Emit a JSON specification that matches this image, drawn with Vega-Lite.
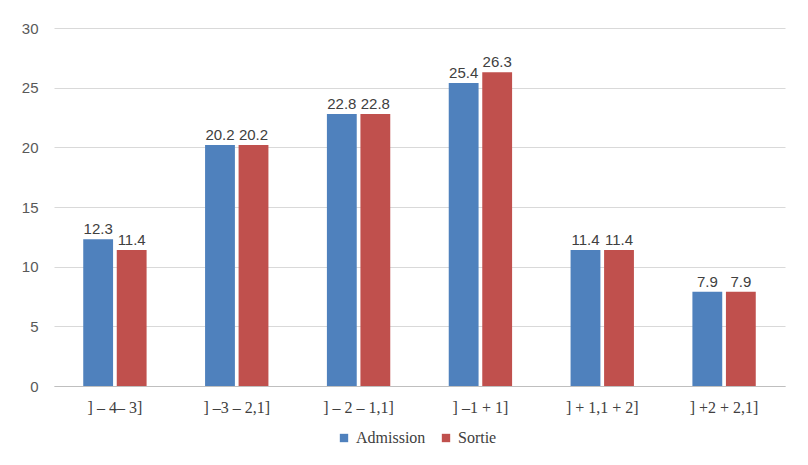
{
  "$schema": "https://vega.github.io/schema/vega-lite/v6.json",
  "width": 731,
  "height": 358,
  "autosize": {"type": "none"},
  "padding": {"left": 54, "top": 28, "right": 23, "bottom": 79},
  "background": "white",
  "data": {"values": [
    {"cat": "] – 4– 3]", "serie": "Admission", "v": 12.3},
    {"cat": "] – 4– 3]", "serie": "Sortie", "v": 11.4},
    {"cat": "] –3 – 2,1]", "serie": "Admission", "v": 20.2},
    {"cat": "] –3 – 2,1]", "serie": "Sortie", "v": 20.2},
    {"cat": "] – 2 – 1,1]", "serie": "Admission", "v": 22.8},
    {"cat": "] – 2 – 1,1]", "serie": "Sortie", "v": 22.8},
    {"cat": "] –1 + 1]", "serie": "Admission", "v": 25.4},
    {"cat": "] –1 + 1]", "serie": "Sortie", "v": 26.3},
    {"cat": "] + 1,1 + 2]", "serie": "Admission", "v": 11.4},
    {"cat": "] + 1,1 + 2]", "serie": "Sortie", "v": 11.4},
    {"cat": "] +2 + 2,1]", "serie": "Admission", "v": 7.9},
    {"cat": "] +2 + 2,1]", "serie": "Sortie", "v": 7.9}
  ]},
  "encoding": {
    "x": {"field": "cat", "type": "nominal", "sort": null,
      "scale": {"paddingInner": 0.48, "paddingOuter": 0.24},
      "axis": {"title": null, "labelAngle": 0, "ticks": false, "domainColor": "#bfbfbf", "labelPadding": 13}},
    "xOffset": {"field": "serie", "type": "nominal", "scale": {"paddingInner": 0.11}},
    "y": {"field": "v", "type": "quantitative",
      "scale": {"domain": [0, 30]},
      "axis": {"title": null, "values": [0, 5, 10, 15, 20, 25, 30], "domain": false, "ticks": false,
        "gridColor": "#d9d9d9", "labelPadding": 16, "labelOverlap": false}}
  },
  "layer": [
    {"mark": {"type": "bar"},
     "encoding": {"color": {"field": "serie", "type": "nominal",
        "scale": {"domain": ["Admission", "Sortie"], "range": ["#4F81BD", "#C0504D"]},
        "legend": {"title": null, "orient": "none", "legendX": 282, "legendY": 402, "direction": "horizontal", "symbolType": "square",
          "symbolSize": 70, "symbolStrokeWidth": 0, "columnPadding": 12}}}},
    {"mark": {"type": "text", "dy": -10, "font": "Liberation Sans", "fontSize": 15, "color": "#404040"},
     "encoding": {"text": {"field": "v", "type": "quantitative", "format": ".1f"}}}
  ],
  "config": {
    "view": {"stroke": null},
    "axisX": {"labelFont": "Liberation Serif", "labelFontSize": 16, "labelColor": "#404040"},
    "axisY": {"labelFont": "Liberation Sans", "labelFontSize": 15, "labelColor": "#595959"},
    "legend": {"labelFont": "Liberation Serif", "labelFontSize": 16, "labelColor": "#404040"}
  }
}
